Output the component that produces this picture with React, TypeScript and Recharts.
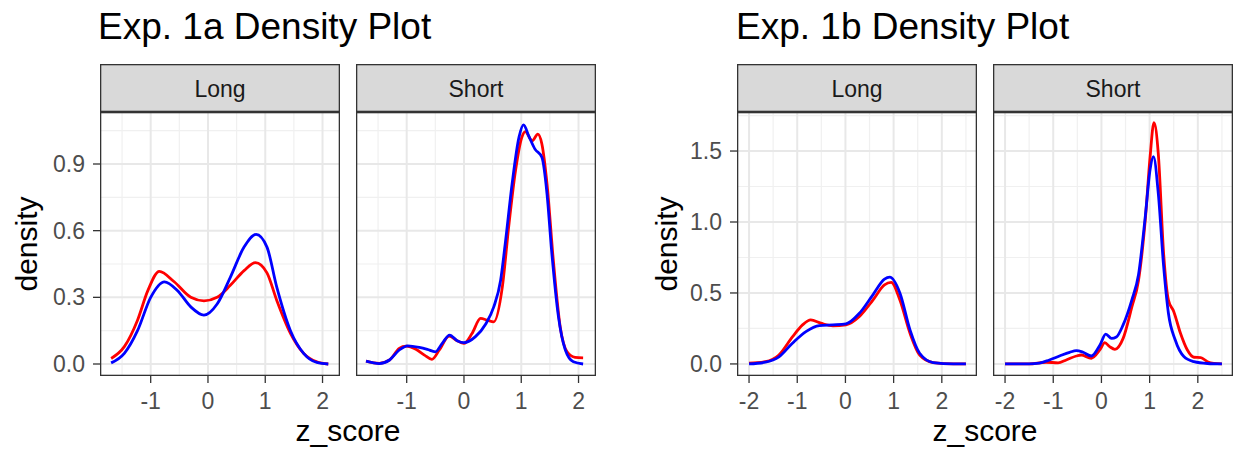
import { LineChart, Line, XAxis, YAxis, CartesianGrid } from 'recharts';

const FONT = '"Liberation Sans", Arial, Helvetica, sans-serif';

// Exp. 1a - Long
const aLongRedX = [-1.69, -1.46, -1.23, -1.05, -0.85, -0.59, -0.3, -0.07, 0.16, 0.39, 0.63, 0.83, 1.03, 1.2, 1.44, 1.67, 1.9, 2.1];
const aLongRedY = [0.025, 0.078, 0.197, 0.33, 0.417, 0.37, 0.3, 0.284, 0.3, 0.354, 0.42, 0.456, 0.41, 0.287, 0.138, 0.048, 0.01, 0.0];
const aLongBlueX = [-1.69, -1.46, -1.23, -1.0, -0.76, -0.53, -0.3, -0.07, 0.16, 0.39, 0.63, 0.84, 1.03, 1.2, 1.44, 1.67, 1.9, 2.1];
const aLongBlueY = [0.005, 0.048, 0.15, 0.3, 0.37, 0.33, 0.257, 0.22, 0.27, 0.39, 0.526, 0.583, 0.526, 0.347, 0.15, 0.048, 0.007, 0.0];

// Exp. 1a - Short
const aShortRedX = [-1.71, -1.48, -1.3, -1.13, -1.01, -0.84, -0.69, -0.56, -0.43, -0.26, -0.12, 0.0, 0.14, 0.29, 0.41, 0.52, 0.67, 0.78, 0.9, 1.01, 1.07, 1.19, 1.29, 1.36, 1.45, 1.56, 1.68, 1.8, 1.94, 2.08];
const aShortRedY = [0.013, 0.003, 0.018, 0.07, 0.08, 0.066, 0.04, 0.021, 0.063, 0.126, 0.105, 0.093, 0.137, 0.205, 0.197, 0.19, 0.347, 0.616, 0.87, 1.02, 1.046, 1.005, 1.034, 0.99, 0.81, 0.466, 0.167, 0.055, 0.03, 0.028];
const aShortBlueX = [-1.71, -1.48, -1.3, -1.13, -0.98, -0.78, -0.64, -0.5, -0.38, -0.25, -0.12, 0.0, 0.2, 0.38, 0.52, 0.64, 0.72, 0.84, 0.96, 1.04, 1.13, 1.24, 1.36, 1.45, 1.53, 1.65, 1.77, 1.91, 2.08];
const aShortBlueY = [0.013, 0.002, 0.018, 0.063, 0.082, 0.075, 0.066, 0.055, 0.093, 0.13, 0.105, 0.096, 0.123, 0.18, 0.257, 0.377, 0.54, 0.81, 1.02, 1.076, 1.027, 0.967, 0.93, 0.765, 0.51, 0.212, 0.063, 0.01, 0.0];

// Exp. 1b - Long
const bLongRedX = [-2.0, -1.66, -1.38, -1.1, -0.89, -0.72, -0.51, -0.26, 0.01, 0.29, 0.57, 0.81, 0.95, 1.13, 1.34, 1.54, 1.82, 2.24, 2.5];
const bLongRedY = [0.005, 0.016, 0.063, 0.19, 0.275, 0.31, 0.287, 0.268, 0.275, 0.334, 0.45, 0.557, 0.574, 0.45, 0.216, 0.063, 0.01, 0.0, 0.0];
const bLongBlueX = [-2.0, -1.66, -1.38, -1.1, -0.82, -0.54, -0.26, 0.01, 0.29, 0.57, 0.81, 0.92, 1.13, 1.34, 1.54, 1.82, 2.24, 2.5];
const bLongBlueY = [0.0, 0.012, 0.05, 0.146, 0.228, 0.27, 0.275, 0.282, 0.357, 0.487, 0.597, 0.611, 0.5, 0.24, 0.075, 0.01, 0.0, 0.0];

// Exp. 1b - Short
const bShortRedX = [-2.0, -1.5, -1.15, -0.9, -0.73, -0.52, -0.42, -0.21, -0.03, 0.07, 0.17, 0.28, 0.45, 0.63, 0.77, 0.91, 1.01, 1.09, 1.18, 1.29, 1.39, 1.5, 1.64, 1.78, 1.92, 2.06, 2.2, 2.33, 2.5];
const bShortRedY = [0.0, 0.0, 0.012, 0.008, 0.028, 0.056, 0.063, 0.04, 0.1, 0.15, 0.122, 0.103, 0.18, 0.4, 0.59, 1.016, 1.46, 1.7, 1.48, 0.78, 0.45, 0.37, 0.216, 0.1, 0.047, 0.045, 0.016, 0.004, 0.0];
const bShortBlueX = [-2.0, -1.5, -1.29, -1.08, -0.87, -0.66, -0.52, -0.38, -0.21, -0.03, 0.09, 0.21, 0.31, 0.45, 0.63, 0.77, 0.91, 1.01, 1.08, 1.18, 1.29, 1.39, 1.53, 1.71, 1.92, 2.2, 2.5];
const bShortBlueY = [0.0, 0.0, 0.005, 0.028, 0.056, 0.082, 0.094, 0.082, 0.056, 0.134, 0.21, 0.18, 0.19, 0.275, 0.45, 0.63, 1.04, 1.37, 1.46, 1.2, 0.69, 0.357, 0.17, 0.052, 0.016, 0.003, 0.0];

// axes
const aXTicks = [-1, 0, 1, 2];
const aXMinor = [-1.5, -0.5, 0.5, 1.5];
const aYTicks = [0, 0.3, 0.6, 0.9];
const aYMinor = [0.15, 0.45, 0.75, 1.05];
const bXTicks = [-2, -1, 0, 1, 2];
const bXMinor = [-1.5, -0.5, 0.5, 1.5, 2.5];
const bYTicks = [0, 0.5, 1.0, 1.5];
const bYMinor = [0.25, 0.75, 1.25, 1.75];

const toPts = (xs: number[], ys: number[]) => xs.map((x, i) => ({ x, y: ys[i] }));

const PANEL_TOP = 112;
const PANEL_H = 264;
const PANEL_W = 240;
const STRIP_TOP = 64;
const STRIP_H = 48;

interface FacetProps {
  left: number;
  red: { x: number; y: number }[];
  blue: { x: number; y: number }[];
  xDomain: [number, number];
  xTicks: number[];
  xMinor: number[];
  yDomain: [number, number];
  yTicks: number[];
  yMinor: number[];
  showY: boolean;
}

function Facet({ left, red, blue, xDomain, xTicks, xMinor, yDomain, yTicks, yMinor, showY }: FacetProps) {
  const yw = showY ? 90 : 0;
  return (
    <div style={{ position: 'absolute', left: left - yw, top: PANEL_TOP }}>
      <LineChart width={PANEL_W + yw} height={PANEL_H + 60} margin={{ top: 0, right: 0, bottom: 0, left: 0 }}>
        <CartesianGrid horizontalValues={yMinor} verticalValues={xMinor} stroke="#f0f0f0" strokeWidth={1.2} />
        <CartesianGrid horizontalValues={yTicks} verticalValues={xTicks} stroke="#e8e8e8" strokeWidth={2} />
        <XAxis
          type="number"
          dataKey="x"
          domain={xDomain}
          ticks={xTicks}
          allowDataOverflow
          height={60}
          axisLine={false}
          tickSize={7}
          tickMargin={10}
          tickLine={{ stroke: '#333333', strokeWidth: 1.3 }}
          tick={{ fontSize: 23, fill: '#4d4d4d', fontFamily: FONT }}
        />
        <YAxis
          type="number"
          dataKey="y"
          domain={yDomain}
          ticks={yTicks}
          allowDataOverflow
          hide={!showY}
          width={yw}
          axisLine={false}
          tickSize={7}
          tickMargin={8}
          tickLine={{ stroke: '#333333', strokeWidth: 1.3 }}
          tickFormatter={(v: number) => v.toFixed(1)}
          tick={{ fontSize: 23, fill: '#4d4d4d', fontFamily: FONT }}
        />
        <Line data={red} dataKey="y" type="monotone" stroke="#ff0000" strokeWidth={2.8} dot={false} isAnimationActive={false} />
        <Line data={blue} dataKey="y" type="monotone" stroke="#0000ff" strokeWidth={2.8} dot={false} isAnimationActive={false} />
      </LineChart>
    </div>
  );
}

const aDomainX: [number, number] = [-1.885, 2.305];
const aDomainY: [number, number] = [-0.054, 1.134];
const bDomainX: [number, number] = [-2.25, 2.73];
const bDomainY: [number, number] = [-0.085, 1.775];

const panels = [
  { left: 100, label: 'Long' },
  { left: 356, label: 'Short' },
  { left: 737, label: 'Long' },
  { left: 993, label: 'Short' },
];

export default function App() {
  return (
    <div style={{ position: 'absolute', left: 0, top: 0, width: 1236, height: 452, background: '#fff', fontFamily: FONT, overflow: 'hidden' }}>
      <Facet left={100} red={toPts(aLongRedX, aLongRedY)} blue={toPts(aLongBlueX, aLongBlueY)}
        xDomain={aDomainX} xTicks={aXTicks} xMinor={aXMinor} yDomain={aDomainY} yTicks={aYTicks} yMinor={aYMinor} showY />
      <Facet left={356} red={toPts(aShortRedX, aShortRedY)} blue={toPts(aShortBlueX, aShortBlueY)}
        xDomain={aDomainX} xTicks={aXTicks} xMinor={aXMinor} yDomain={aDomainY} yTicks={aYTicks} yMinor={aYMinor} showY={false} />
      <Facet left={737} red={toPts(bLongRedX, bLongRedY)} blue={toPts(bLongBlueX, bLongBlueY)}
        xDomain={bDomainX} xTicks={bXTicks} xMinor={bXMinor} yDomain={bDomainY} yTicks={bYTicks} yMinor={bYMinor} showY />
      <Facet left={993} red={toPts(bShortRedX, bShortRedY)} blue={toPts(bShortBlueX, bShortBlueY)}
        xDomain={bDomainX} xTicks={bXTicks} xMinor={bXMinor} yDomain={bDomainY} yTicks={bYTicks} yMinor={bYMinor} showY={false} />

      {/* strips, panel borders and titles */}
      <svg width={1236} height={452} style={{ position: 'absolute', left: 0, top: 0, pointerEvents: 'none' }} fontFamily={FONT}>
        {panels.map((p) => (
          <g key={p.left}>
            <rect x={p.left + 0.65} y={STRIP_TOP + 0.65} width={PANEL_W - 1.3} height={STRIP_H - 1.3} fill="#d9d9d9" stroke="#333333" strokeWidth={1.3} />
            <text x={p.left + PANEL_W / 2} y={STRIP_TOP + 33} textAnchor="middle" fontSize={23} fill="#1a1a1a">{p.label}</text>
            <rect x={p.left + 0.65} y={PANEL_TOP + 0.65} width={PANEL_W - 1.3} height={PANEL_H - 1.3} fill="none" stroke="#333333" strokeWidth={1.3} />
          </g>
        ))}
        <text x={98} y={39} fontSize={37} fill="#000">Exp. 1a Density Plot</text>
        <text x={736} y={39} fontSize={37} fill="#000">Exp. 1b Density Plot</text>
        <text x={348} y={441} textAnchor="middle" fontSize={30} fill="#000">z_score</text>
        <text x={985} y={441} textAnchor="middle" fontSize={30} fill="#000">z_score</text>
        <text transform="translate(37,244) rotate(-90)" textAnchor="middle" fontSize={30} fill="#000">density</text>
        <text transform="translate(677,244) rotate(-90)" textAnchor="middle" fontSize={30} fill="#000">density</text>
      </svg>
    </div>
  );
}
